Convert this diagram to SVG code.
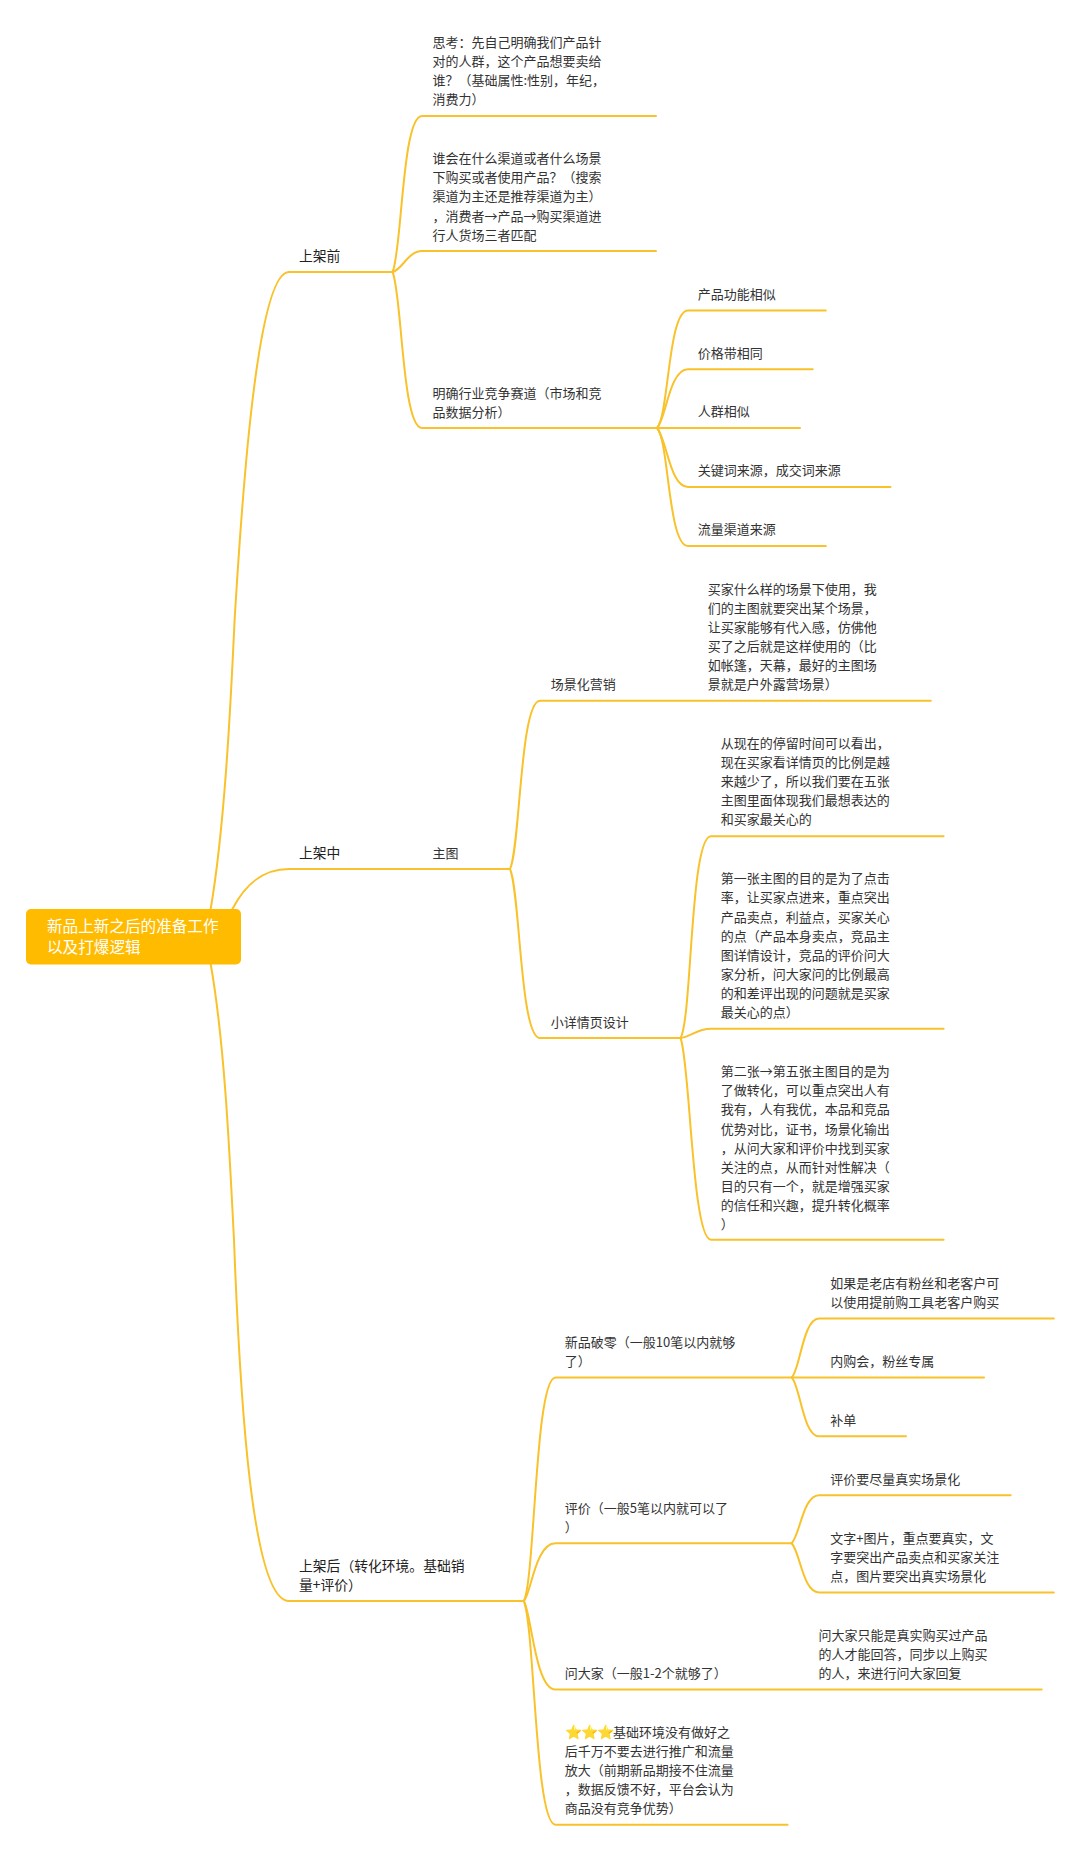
<svg xmlns="http://www.w3.org/2000/svg" width="1080" height="1852" viewBox="0 0 1080 1852">
<style>
text{font-family:"Noto Sans CJK SC","Noto Sans",sans-serif;font-size:13px;fill:#333}
.b{font-size:13.8px;fill:#222}
.r{font-size:15.6px;fill:#fff}
.s{fill:#FFC107;font-family:"DejaVu Sans","Noto Sans CJK SC",sans-serif}
#connectors path{fill:none;stroke:#F9C22B;stroke-width:2;stroke-linecap:round}
</style>
<rect width="1080" height="1852" fill="#fff"/>
<g id="connectors">
<path d="M210.7,909C224,830 230,720 234.6,620C243,480 258,272 289,272H392.6"/>
<path d="M232.4,909C245,885 262,869 289,869H510"/>
<path d="M210.7,964C224,1040 229,1140 234,1240C240,1400 252,1601 289,1601H523.8"/>
<path d="M392.6,272C402,250 402,116 422,116H656"/>
<path d="M392.6,272C402,270 408,251 422,251H656"/>
<path d="M392.6,272C402,294 402,428 422,428H657"/>
<path d="M657,428C669,415 668,310.4 688,310.4H825.8"/>
<path d="M657,428C666,420 669,369.3 688,369.3H812.7"/>
<path d="M657,428H800"/>
<path d="M657,428C667,440 670,487 688,487H890.5"/>
<path d="M657,428C669,440 668,546 688,546H825.8"/>
<path d="M510,869C520,850 520,700.7 540,700.7H930.8"/>
<path d="M510,869C520,890 520,1038 540,1038H680.5"/>
<path d="M680.5,1038C692,1020 690,836.3 711,836.3H943.6"/>
<path d="M680.5,1038C690,1037 697,1028.8 711,1028.8H943.6"/>
<path d="M680.5,1038C690,1060 692,1239.8 711,1239.8H943.6"/>
<path d="M523.8,1601C535,1580 535,1377.4 555.5,1377.4H791.7"/>
<path d="M523.8,1601C531,1595 535,1543.3 555.5,1543.3H791.7"/>
<path d="M523.8,1601C531,1610 535,1689.6 555.5,1689.6H1041.7"/>
<path d="M523.8,1601C535,1630 535,1824.7 555.5,1824.7H787.6"/>
<path d="M791.7,1377.4C800,1370 803,1318.5 819,1318.5H1053.8"/>
<path d="M791.7,1377.4H984"/>
<path d="M791.7,1377.4C800,1385 803,1436.3 819,1436.3H906"/>
<path d="M791.7,1543.3C800,1535 803,1495.3 819,1495.3H1010.7"/>
<path d="M791.7,1543.3C800,1552 803,1592.4 819,1592.4H1053.8"/>
</g>
<g id="root"><rect x="26" y="909" width="215" height="55.5" rx="5" fill="#FFBB00"/>
<text class="r" x="47" y="932">新品上新之后的准备工作</text><text class="r" x="47" y="953">以及打爆逻辑</text></g>
<g id="n-before"><text class="b" x="299" y="260.5">上架前</text></g>
<g id="n-during"><text class="b" x="299" y="858">上架中</text></g>
<g id="n-after"><text class="b" x="299" y="1570.5">上架后（转化环境。基础销</text><text class="b" x="299" y="1589.5">量+评价）</text></g>
<g id="n1"><text x="432.5" y="47">思考：先自己明确我们产品针</text><text x="432.5" y="66.1">对的人群，这个产品想要卖给</text><text x="432.5" y="85.2">谁？（基础属性:性别，年纪，</text><text x="432.5" y="104.3">消费力）</text></g>
<g id="n2"><text x="432.5" y="163.2">谁会在什么渠道或者什么场景</text><text x="432.5" y="182.3">下购买或者使用产品？（搜索</text><text x="432.5" y="201.4">渠道为主还是推荐渠道为主）</text><text x="432.5" y="220.5">，消费者→产品→购买渠道进</text><text x="432.5" y="239.6">行人货场三者匹配</text></g>
<g id="n3"><text x="432.5" y="397.5">明确行业竞争赛道（市场和竞</text><text x="432.5" y="416.6">品数据分析）</text></g>
<g id="n3a"><text x="697.7" y="298.6">产品功能相似</text></g>
<g id="n3b"><text x="697.7" y="357.5">价格带相同</text></g>
<g id="n3c"><text x="697.7" y="416.3">人群相似</text></g>
<g id="n3d"><text x="697.7" y="475.2">关键词来源，成交词来源</text></g>
<g id="n3e"><text x="697.7" y="534.2">流量渠道来源</text></g>
<g id="n-main"><text x="432.5" y="858">主图</text></g>
<g id="n-scene"><text x="550.7" y="689">场景化营销</text></g>
<g id="n-scene-a"><text x="707.7" y="593.5">买家什么样的场景下使用，我</text><text x="707.7" y="612.6">们的主图就要突出某个场景，</text><text x="707.7" y="631.7">让买家能够有代入感，仿佛他</text><text x="707.7" y="650.8">买了之后就是这样使用的（比</text><text x="707.7" y="669.9">如帐篷，天幕，最好的主图场</text><text x="707.7" y="689">景就是户外露营场景）</text></g>
<g id="n-detail"><text x="550.7" y="1026.7">小详情页设计</text></g>
<g id="n-detail-a"><text x="720.8" y="748">从现在的停留时间可以看出，</text><text x="720.8" y="767.1">现在买家看详情页的比例是越</text><text x="720.8" y="786.2">来越少了，所以我们要在五张</text><text x="720.8" y="805.3">主图里面体现我们最想表达的</text><text x="720.8" y="824.4">和买家最关心的</text></g>
<g id="n-detail-b"><text x="720.8" y="883.3">第一张主图的目的是为了点击</text><text x="720.8" y="902.4">率，让买家点进来，重点突出</text><text x="720.8" y="921.5">产品卖点，利益点，买家关心</text><text x="720.8" y="940.6">的点（产品本身卖点，竞品主</text><text x="720.8" y="959.7">图详情设计，竞品的评价问大</text><text x="720.8" y="978.8">家分析，问大家问的比例最高</text><text x="720.8" y="997.9">的和差评出现的问题就是买家</text><text x="720.8" y="1017">最关心的点）</text></g>
<g id="n-detail-c"><text x="720.8" y="1076.2">第二张→第五张主图目的是为</text><text x="720.8" y="1095.3">了做转化，可以重点突出人有</text><text x="720.8" y="1114.4">我有，人有我优，本品和竞品</text><text x="720.8" y="1133.5">优势对比，证书，场景化输出</text><text x="720.8" y="1152.6">，从问大家和评价中找到买家</text><text x="720.8" y="1171.7">关注的点，从而针对性解决（</text><text x="720.8" y="1190.8">目的只有一个，就是增强买家</text><text x="720.8" y="1209.9">的信任和兴趣，提升转化概率</text><text x="720.8" y="1229">）</text></g>
<g id="n-zero"><text x="564.8" y="1347">新品破零（一般10笔以内就够</text><text x="564.8" y="1366">了）</text></g>
<g id="n-zero-a"><text x="830.3" y="1288">如果是老店有粉丝和老客户可</text><text x="830.3" y="1307">以使用提前购工具老客户购买</text></g>
<g id="n-zero-b"><text x="830.3" y="1365.8">内购会，粉丝专属</text></g>
<g id="n-zero-c"><text x="830.3" y="1424.7">补单</text></g>
<g id="n-review"><text x="564.8" y="1512.7">评价（一般5笔以内就可以了</text><text x="564.8" y="1531.8">）</text></g>
<g id="n-review-a"><text x="830.3" y="1483.8">评价要尽量真实场景化</text></g>
<g id="n-review-b"><text x="830.3" y="1542.7">文字+图片，重点要真实，文</text><text x="830.3" y="1561.8">字要突出产品卖点和买家关注</text><text x="830.3" y="1580.9">点，图片要突出真实场景化</text></g>
<g id="n-ask"><text x="564.8" y="1678">问大家（一般1-2个就够了）</text></g>
<g id="n-ask-a"><text x="818.6" y="1639.8">问大家只能是真实购买过产品</text><text x="818.6" y="1658.9">的人才能回答，同步以上购买</text><text x="818.6" y="1678">的人，来进行问大家回复</text></g>
<g id="n-warn"><text x="564.8" y="1736.8"><tspan class="s" font-size="14">⭐</tspan><tspan class="s" font-size="14" x="581">⭐</tspan><tspan class="s" font-size="14" x="597">⭐</tspan><tspan x="613">基础环境没有做好之</tspan></text><text x="564.8" y="1755.9">后千万不要去进行推广和流量</text><text x="564.8" y="1775">放大（前期新品期接不住流量</text><text x="564.8" y="1794.1">，数据反馈不好，平台会认为</text><text x="564.8" y="1813.2">商品没有竞争优势）</text></g>
</svg>
